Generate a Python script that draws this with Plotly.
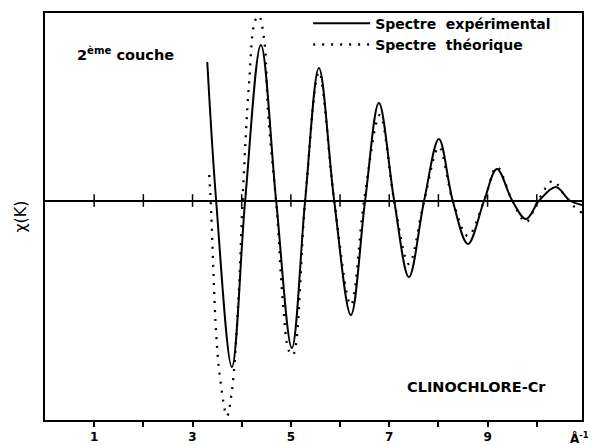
import plotly.graph_objects as go

k_exp = [3.30, 3.48, 3.80, 4.07, 4.39, 4.70, 5.02, 5.29, 5.57, 5.88, 6.22, 6.51,
         6.79, 7.10, 7.40, 7.71, 8.01, 8.29, 8.60, 8.93, 9.19, 9.50, 9.78, 10.05,
         10.39, 10.67, 10.92]
chi_exp = [1.385, 0.0, -1.665, 0.0, 1.555, 0.0, -1.475, 0.0, 1.325, 0.0, -1.145, 0.0,
           0.975, 0.0, -0.765, 0.0, 0.615, 0.0, -0.435, 0.0, 0.315, 0.0, -0.185, 0.0,
           0.135, 0.0, -0.045]

# Theoretical spectrum (dotted)
k_th = [3.34, 3.38, 3.48, 3.56, 3.70, 3.80, 3.93, 4.03, 4.15, 4.27, 4.35, 4.46,
        4.54, 4.72, 4.84, 4.96, 5.04, 5.29, 5.57, 5.88, 6.22, 6.49, 6.81, 7.10,
        7.40, 7.71, 8.01, 8.29, 8.60, 8.93, 9.19, 9.50, 9.78, 10.03, 10.33, 10.63, 10.92]
chi_th = [0.255, -0.125, -1.325, -1.775, -2.155, -1.905, -1.025, 0.135, 1.175, 1.795, 1.845, 1.595,
          0.845, -0.135, -1.035, -1.505, -1.545, 0.0, 1.285, 0.0, -1.045, 0.0, 0.855, 0.0,
          -0.635, 0.0, 0.535, 0.0, -0.355, 0.0, 0.335, 0.0, -0.215, 0.0, 0.195, 0.0, -0.125]

tick_k = [1, 2, 3, 4, 5, 6, 7, 8, 9, 10]
tick_text = ["1", "", "3", "", "5", "", "7", "", "9", ""]

FONT = "DejaVu Sans"

fig = go.Figure()
fig.add_trace(go.Scatter(
    x=k_exp, y=chi_exp, mode="lines", name="Spectre  expérimental",
    line=dict(color="black", width=2, shape="spline", smoothing=1.0)))
fig.add_trace(go.Scatter(
    x=k_th, y=chi_th, mode="lines", name="Spectre  théorique",
    line=dict(color="black", width=2.3, shape="spline", smoothing=1.0, dash="2px,7px")))
fig.add_trace(go.Scatter(
    x=tick_k, y=[0] * len(tick_k), mode="markers", showlegend=False, hoverinfo="skip",
    marker=dict(symbol="line-ns", size=9, line=dict(color="black", width=1.5))))

fig.update_layout(
    width=592, height=445,
    margin=dict(l=45, r=10, t=13, b=25, autoexpand=False),
    paper_bgcolor="white", plot_bgcolor="white",
    showlegend=True,
    legend=dict(x=0.49, y=1.013, xanchor="left", yanchor="top",
                bgcolor="rgba(0,0,0,0)", itemwidth=57, tracegroupgap=0,
                font=dict(family=FONT, size=14, color="black", weight="bold")),
    xaxis=dict(range=[0, 10.92], showgrid=False, zeroline=False, automargin=False,
               showline=True, linecolor="black", linewidth=2, mirror=True,
               ticks="outside", ticklen=5, tickwidth=1.5, tickcolor="black",
               tickvals=tick_k, ticktext=tick_text,
               tickfont=dict(family=FONT, size=12, color="black", weight="bold")),
    yaxis=dict(range=[-2.195, 1.875], showgrid=False, zeroline=True, automargin=False,
               zerolinecolor="black", zerolinewidth=2,
               showline=True, linecolor="black", linewidth=2, mirror=True,
               showticklabels=False, ticks="",
               title=dict(text="χ(K)", standoff=12,
                          font=dict(family=FONT, size=16, color="black"))),
    annotations=[
        dict(text="2<sup>ème</sup> couche", x=0.055, y=0.9, xref="paper", yref="paper",
             xanchor="left", yanchor="middle", showarrow=False,
             font=dict(family=FONT, size=14.5, color="black", weight="bold")),
        dict(text="CLINOCHLORE-Cr", x=0.67, y=0.08, xref="paper", yref="paper",
             xanchor="left", yanchor="middle", showarrow=False,
             font=dict(family=FONT, size=14.5, color="black", weight="bold")),
        dict(text="Å<sup>-1</sup>", x=10.86, y=-0.02, xref="x", yref="paper",
             xanchor="center", yanchor="top", showarrow=False,
             font=dict(family=FONT, size=12, color="black", weight="bold")),
    ],
)

fig.write_html("out.html")
